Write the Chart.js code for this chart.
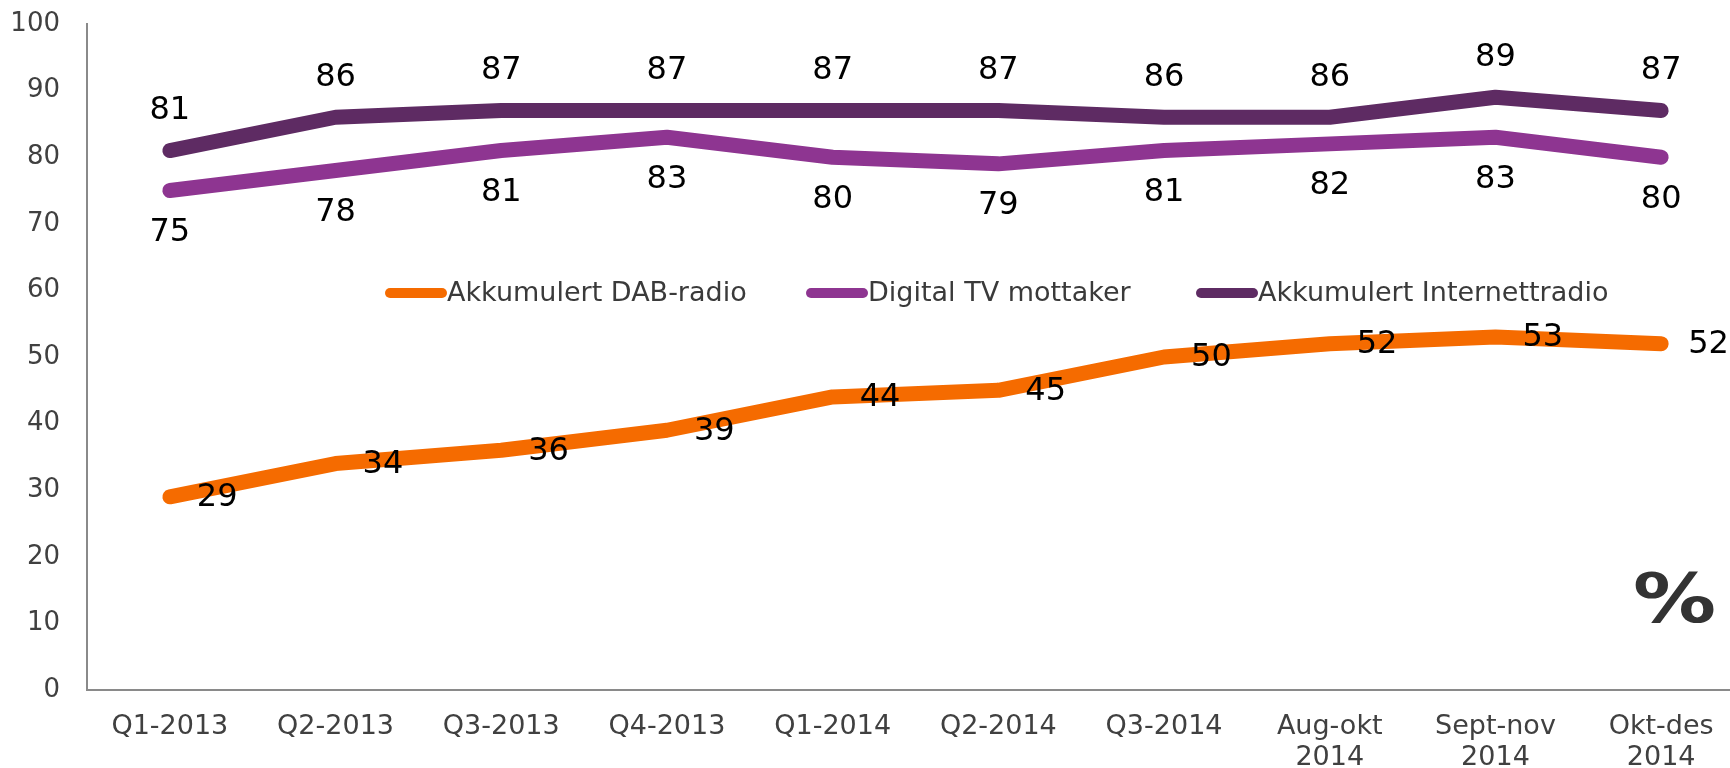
<!DOCTYPE html>
<html>
<head>
<meta charset="utf-8">
<script src="https://cdn.jsdelivr.net/npm/chart.js@4.4.1/dist/chart.umd.min.js"></script>
<style>
    html, body { margin: 0; padding: 0; background: #fff; overflow: hidden; }
    #wrap { width: 1744px; height: 768px; }
</style>
</head>
<body>
<div id="wrap"><canvas id="chart" width="1744" height="768"></canvas></div>
<script>
const periods = [
    'Q1-2013', 'Q2-2013', 'Q3-2013', 'Q4-2013', 'Q1-2014', 'Q2-2014', 'Q3-2014',
    ['Aug-okt', '2014'], ['Sept-nov', '2014'], ['Okt-des', '2014']
];
const seriesNames = ['Akkumulert DAB-radio', 'Digital TV mottaker', 'Akkumulert Internettradio'];
const dabRadio = [29, 34, 36, 39, 44, 45, 50, 52, 53, 52];
const digitalTv = [75, 78, 81, 83, 80, 79, 81, 82, 83, 80];
const internetRadio = [81, 86, 87, 87, 87, 87, 86, 86, 89, 87];
const yTicks = [0, 10, 20, 30, 40, 50, 60, 70, 80, 90, 100];

const colors = ['#f56b00', '#8e3591', '#5e2b63'];
const FONT = '"DejaVu Sans", Verdana, sans-serif';

// where each series puts its value labels
const labelSpots = ['right', 'below', 'above'];

const valueLabels = {
    id: 'valueLabels',
    afterDatasetsDraw(chart) {
        const ctx = chart.ctx;
        ctx.save();
        ctx.font = '32px ' + FONT;
        ctx.fillStyle = '#000';
        ctx.textBaseline = 'middle';
        chart.data.datasets.forEach((ds, i) => {
            const meta = chart.getDatasetMeta(i);
            meta.data.forEach((pt, j) => {
                const text = String(ds.data[j]);
                if (labelSpots[i] === 'right') {
                    ctx.textAlign = 'left';
                    ctx.fillText(text, pt.x + 27, pt.y + 1);
                } else if (labelSpots[i] === 'below') {
                    ctx.textAlign = 'center';
                    ctx.fillText(text, pt.x, pt.y + 42);
                } else {
                    ctx.textAlign = 'center';
                    ctx.fillText(text, pt.x, pt.y - 40);
                }
            });
        });
        ctx.restore();
    },
    afterDraw(chart) {
        const ctx = chart.ctx;
        ctx.save();

        // legend sits inside the plot
        const legendX = [385, 806, 1196];
        const legendY = 293;
        chart.data.datasets.forEach((ds, i) => {
            ctx.strokeStyle = ds.borderColor;
            ctx.lineWidth = 10;
            ctx.lineCap = 'round';
            ctx.beginPath();
            ctx.moveTo(legendX[i] + 5, legendY);
            ctx.lineTo(legendX[i] + 57, legendY);
            ctx.stroke();
            ctx.font = '27px ' + FONT;
            ctx.fillStyle = '#3a3a3a';
            ctx.textAlign = 'left';
            ctx.textBaseline = 'middle';
            ctx.fillText(ds.label, legendX[i] + 62, legendY + 1);
        });

        // big percent sign, a bit wider than the plain bold glyph
        ctx.font = 'bold 68px ' + FONT;
        ctx.fillStyle = '#333';
        ctx.textAlign = 'right';
        ctx.textBaseline = 'alphabetic';
        ctx.translate(1716, 622);
        ctx.scale(1.22, 1);
        ctx.fillText('%', 0, 0);
        ctx.restore();
    }
};

const ctx = document.getElementById('chart').getContext('2d');
new Chart(ctx, {
    type: 'line',
    data: {
        labels: periods,
        datasets: [dabRadio, digitalTv, internetRadio].map((values, i) => ({
            label: seriesNames[i],
            data: values,
            borderColor: colors[i],
            backgroundColor: colors[i],
            borderWidth: 15,
            borderCapStyle: 'round',
            borderJoinStyle: 'round',
            pointRadius: 0,
            tension: 0,
            fill: false
        }))
    },
    options: {
        responsive: false,
        animation: false,
        layout: { padding: { top: 24, right: 0, left: 0, bottom: 0 } },
        plugins: {
            legend: { display: false },
            tooltip: { enabled: false }
        },
        scales: {
            x: {
                type: 'category',
                offset: true,
                grid: { display: false, drawTicks: false },
                border: { display: true, color: '#8a8a8a', width: 2 },
                ticks: {
                    color: '#404040',
                    font: { family: FONT, size: 27, lineHeight: 1.15 },
                    padding: 21,
                    maxRotation: 0,
                    autoSkip: false
                },
                afterFit(axis) {
                    axis.height = 78;
                    axis.paddingLeft = 0;
                    axis.paddingRight = 0;
                }
            },
            y: {
                min: 0,
                max: 100,
                afterBuildTicks(axis) { axis.ticks = yTicks.map(v => ({ value: v })); },
                grid: { display: false, drawTicks: false },
                border: { display: true, color: '#8a8a8a', width: 2 },
                ticks: {
                    color: '#404040',
                    font: { family: FONT, size: 26 },
                    padding: 27
                },
                afterFit(axis) {
                    axis.width = 87;
                    axis.paddingTop = 0;
                    axis.paddingBottom = 0;
                }
            }
        }
    },
    plugins: [valueLabels]
});
</script>
</body>
</html>
